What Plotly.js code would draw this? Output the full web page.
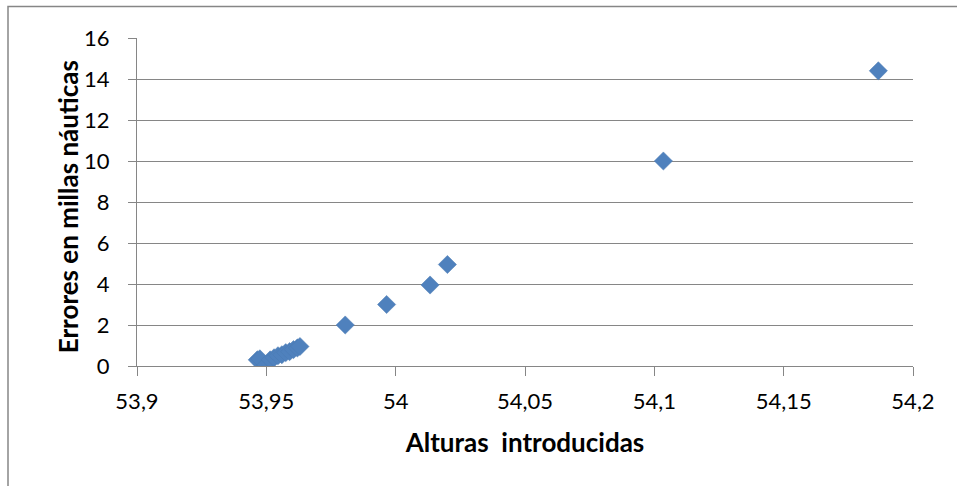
<!DOCTYPE html>
<html>
<head>
<meta charset="utf-8">
<script src="https://cdn.plot.ly/plotly-3.0.1.min.js"></script>
<style>
html,body{margin:0;padding:0;background:#fff;}
#chart{width:957px;height:486px;}
</style>
</head>
<body>
<div id="chart"></div>
<script>
// Data
const alturas = [53.9465, 53.9475, 53.9498, 53.9515, 53.953, 53.9545, 53.956, 53.9575, 53.959, 53.9605, 53.962, 53.963,
                 53.9805, 53.9965, 54.0133, 54.0200, 54.1035, 54.1866];
const errores = [0.3, 0.35, 0.05, 0.3, 0.4, 0.5, 0.55, 0.65, 0.7, 0.8, 0.88, 0.95,
                 2, 3, 3.95, 4.95, 10, 14.4];
const xTickVals = [53.9, 53.95, 54, 54.05, 54.1, 54.15, 54.2];
const xTickText = ["53,9", "53,95", "54", "54,05", "54,1", "54,15", "54,2"];
const yTickVals = [0, 2, 4, 6, 8, 10, 12, 14, 16];
const yTickText = ["0", "2", "4", "6", "8", "10", "12", "14", "16"];
const xTitle = "Alturas&nbsp; introducidas";
const yTitle = "Errores en millas náuticas";

const gray = "#868686";
const font = "Lato, 'Open Sans', sans-serif";

const trace = {
  type: "scatter",
  mode: "markers",
  x: alturas,
  y: errores,
  marker: {symbol: "diamond", size: 14, color: "#4F81BD", line: {color: "#4A7AB3", width: 0.5}},
  hoverinfo: "x+y"
};

const L = 137, R = 913, T = 37.5, B = 366;
const W = 957, H = 486;
const pw = R - L, ph = B - T;
const px = v => (v - L) / pw;
const py = v => (B - v) / ph;

const layout = {
  width: W, height: H,
  margin: {l: L, r: W - R, t: T, b: H - B, pad: 0},
  paper_bgcolor: "#fff",
  plot_bgcolor: "#fff",
  showlegend: false,
  separators: ",.",
  font: {family: font, color: "#000", size: 22},
  xaxis: {
    range: [53.9, 54.2],
    tickmode: "array", tickvals: xTickVals, ticktext: xTickText,
    showgrid: false, zeroline: false,
    showline: true, linecolor: gray, linewidth: 1,
    ticks: "outside", ticklen: 9, tickcolor: gray, tickwidth: 1,
    ticklabelstandoff: 7,
    tickfont: {family: font, size: 22, color: "#000"},
    title: {text: "<b>" + xTitle + "</b>", font: {family: font, size: 26, color: "#000"}, standoff: 20},
    automargin: false, fixedrange: true
  },
  yaxis: {
    range: [0, 16],
    tickmode: "array", tickvals: yTickVals, ticktext: yTickText,
    showgrid: true, gridcolor: gray, gridwidth: 1,
    zeroline: false,
    showline: true, linecolor: gray, linewidth: 1,
    ticks: "outside", ticklen: 8, tickcolor: gray, tickwidth: 1,
    ticklabelstandoff: 14,
    tickfont: {family: font, size: 22, color: "#000"},
    automargin: false, fixedrange: true
  },
  annotations: [
    {text: "<b>" + yTitle + "</b>", xref: "paper", yref: "paper",
     x: px(68), y: py(207), xanchor: "center", yanchor: "middle",
     textangle: -90, showarrow: false,
     font: {family: font, size: 26, color: "#000"}}
  ],
  shapes: [
    {type: "rect", xref: "paper", yref: "paper",
     x0: px(8), x1: px(962), y0: py(6), y1: py(492),
     line: {color: gray, width: 1.5}, fillcolor: "rgba(0,0,0,0)", layer: "below"}
  ]
};

Plotly.newPlot("chart", [trace], layout, {displayModeBar: false, staticPlot: false});
</script>
</body>
</html>
